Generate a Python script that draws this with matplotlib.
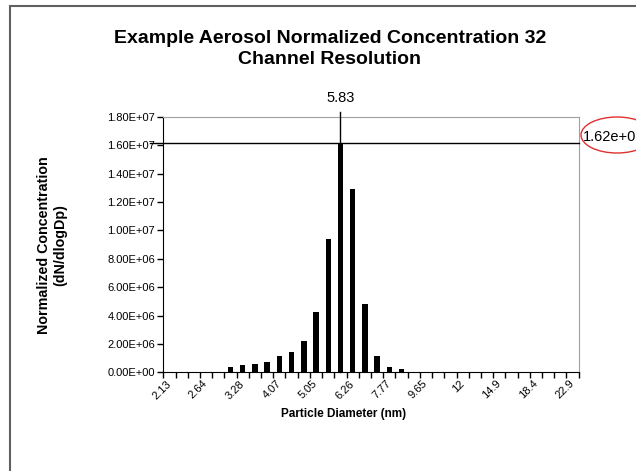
import numpy as np
import matplotlib.pyplot as plt
import matplotlib.transforms as mtransforms
from matplotlib.patches import Ellipse, Rectangle

plt.rcParams['font.family'] = ['Liberation Sans', 'DejaVu Sans']

# Particle diameter channels (nm), 32 channels per decade
diameters = ['2.13', '2.29', '2.46', '2.64', '2.84', '3.05', '3.28', '3.53', '3.79',
             '4.07', '4.37', '4.70', '5.05', '5.43', '5.83', '6.26', '6.73', '7.23',
             '7.77', '8.35', '8.98', '9.65', '10.4', '11.1', '12', '12.9', '13.8',
             '14.9', '16', '17.2', '18.4', '19.8', '21.3', '22.9']

# Normalized concentration dN/dlogDp
concentration = [0, 0, 0, 0, 0, 3.9e5, 4.9e5, 5.9e5, 7.5e5, 1.17e6, 1.41e6, 2.2e6,
                 4.28e6, 9.39e6, 1.62e7, 1.29e7, 4.8e6, 1.17e6, 3.9e5, 2.1e5,
                 0, 0, 0, 0, 0, 0, 0, 0, 0, 0, 0, 0, 0, 0]

label_every = 3
y_ticks = np.arange(0, 1.8e7 + 1, 2e6)

fig = plt.figure(figsize=(6.36, 4.71), dpi=100)
ax = fig.add_axes([0.2568, 0.2096, 0.6531, 0.5420])

x = np.arange(len(diameters))
ax.bar(x, concentration, width=0.44, color='black', zorder=3)

ax.set_xlim(-0.5, len(diameters) - 0.5)
ax.set_ylim(0, 1.8e7)

# category boundary ticks, labels every third channel
ax.set_xticks(x[::label_every])
ax.set_xticklabels(diameters[::label_every], rotation=45, ha='right', va='center',
                   rotation_mode='anchor', fontsize=8)
shift = mtransforms.ScaledTranslation(-4 / 72, 0, fig.dpi_scale_trans)
for lbl in ax.get_xticklabels():
    lbl.set_transform(lbl.get_transform() + shift)
ax.set_xticks(np.arange(len(diameters) + 1) - 0.5, minor=True)
ax.tick_params(axis='x', which='major', length=0, pad=7)
ax.tick_params(axis='x', which='minor', length=4, width=1, direction='out')

ax.set_yticks(y_ticks)
ax.set_yticklabels(['{:.2E}'.format(v) for v in y_ticks], fontsize=8)
ax.tick_params(axis='y', length=4, width=1, direction='out', pad=2)

for side in ['top', 'right']:
    ax.spines[side].set_color('#a0a0a0')
for side in ['left', 'bottom']:
    ax.spines[side].set_color('black')

ax.set_xlabel('Particle Diameter (nm)', fontsize=8.5, fontweight='bold', va='center')
ax.xaxis.set_label_coords(0.435, -0.163)
fig.text(52 / 636, 1 - 245 / 471, 'Normalized Concentration\n(dN/dlogDp)', rotation=90,
         ha='center', va='center', multialignment='center', fontsize=10.3, fontweight='bold')

fig.text(330 / 636, 1 - 49 / 471, 'Example Aerosol Normalized Concentration 32\nChannel Resolution',
         ha='center', va='center', fontsize=14, fontweight='bold', linespacing=1.3)

# peak markers
peak_idx = int(np.argmax(concentration))
peak_val = concentration[peak_idx]
ax.axvline(peak_idx, ymin=0, ymax=1.02, color='black', lw=1, clip_on=False, zorder=4)
ax.axhline(peak_val, xmin=-0.032, xmax=1.0, color='black', lw=1, clip_on=False, zorder=4)
ax.annotate(diameters[peak_idx], xy=(peak_idx, 1), xycoords=('data', 'axes fraction'),
            xytext=(0, 14), textcoords='offset points', ha='center', va='center', fontsize=10.5)
ax.annotate('{:.2e}'.format(peak_val), xy=(1, peak_val), xycoords=('axes fraction', 'data'),
            xytext=(3, 4), textcoords='offset points', ha='left', va='center', fontsize=10.5,
            annotation_clip=False)
fig.patches.append(Ellipse((617 / 636, 1 - 135 / 471), 72 / 636, 36 / 471,
                           transform=fig.transFigure, fill=False, edgecolor='#e03030', lw=1))

# outer chart frame
fig.patches.append(Rectangle((10 / 636, -0.1), 1.2, 1.1 - 6 / 471, transform=fig.transFigure,
                             fill=False, edgecolor='#606060', lw=1.5))

fig.savefig('out.png', dpi=100)
